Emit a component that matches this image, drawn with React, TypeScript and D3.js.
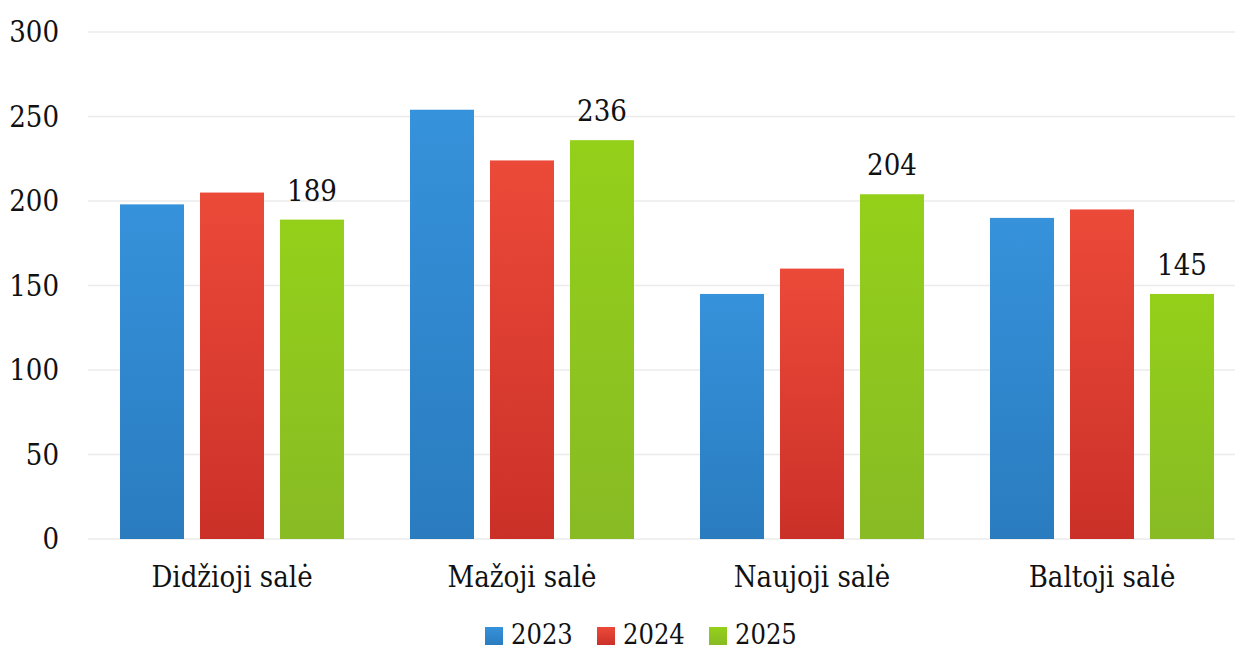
import React from "react";
import * as d3 from "d3";

const categories = ["Didžioji salė", "Mažoji salė", "Naujoji salė", "Baltoji salė"];
const years = ["2023", "2024", "2025"];
const values2023 = [198, 254, 145, 190];
const values2024 = [205, 224, 160, 195];
const values2025 = [189, 236, 204, 145];
const yTicks = [0, 50, 100, 150, 200, 250, 300];
const labeledSeries = "2025";

const seriesValues: Record<string, number[]> = {
  "2023": values2023,
  "2024": values2024,
  "2025": values2025,
};

const colors: Record<string, [string, string]> = {
  "2023": ["#3692db", "#2a7cbf"],
  "2024": ["#ec4a39", "#cb3028"],
  "2025": ["#94d01a", "#88bb24"],
};

const W = 1235;
const H = 651;
const fontStyle = { fontFamily: "DejaVu Serif", fontStretch: "condensed" as const };

export default function App() {
  const y = d3.scaleLinear().domain([0, 300]).range([539, 32]);
  const x = d3.scaleBand<string>().domain(categories).range([87, 1247]).paddingInner(0).paddingOuter(0);
  const xi = d3.scaleBand<string>().domain(years).range([33, 257]).paddingInner(0.2).paddingOuter(0);

  return (
    <svg width={W} height={H} style={{ position: "absolute", left: 0, top: 0, background: "#fff" }}>
      <defs>
        {years.map((yr) => (
          <linearGradient key={yr} id={`g${yr}`} x1="0" y1="0" x2="0" y2="1">
            <stop offset="0%" stopColor={colors[yr][0]} />
            <stop offset="100%" stopColor={colors[yr][1]} />
          </linearGradient>
        ))}
      </defs>
      {yTicks.map((t) => (
        <g key={t}>
          <line x1={88} x2={W} y1={y(t)} y2={y(t)} stroke="#ebebeb" strokeWidth={1.5} />
          <text x={59} y={y(t)} dy="0.36em" textAnchor="end" style={fontStyle} fontSize={29} fill="#111">
            {t}
          </text>
        </g>
      ))}
      {categories.map((c, ci) => (
        <g key={c} transform={`translate(${x(c)},0)`}>
          {years.map((yr) => {
            const v = seriesValues[yr][ci];
            const bx = xi(yr)!;
            const bw = xi.bandwidth();
            return (
              <g key={yr}>
                <rect x={bx} y={y(v)} width={bw} height={y(0) - y(v)} fill={`url(#g${yr})`} />
                {yr === labeledSeries && (
                  <text x={bx + bw / 2} y={y(v) - 19} textAnchor="middle" style={fontStyle} fontSize={29} fill="#111">
                    {v}
                  </text>
                )}
              </g>
            );
          })}
          <text x={x.bandwidth() / 2} y={587} textAnchor="middle" style={fontStyle} fontSize={29} fill="#111">
            {c}
          </text>
        </g>
      ))}
      {years.map((yr, i) => (
        <g key={yr} transform={`translate(${485 + i * 112},0)`}>
          <rect x={0} y={627} width={18} height={18} fill={`url(#g${yr})`} />
          <text x={26} y={644} style={fontStyle} fontSize={27} fill="#111">
            {yr}
          </text>
        </g>
      ))}
    </svg>
  );
}
